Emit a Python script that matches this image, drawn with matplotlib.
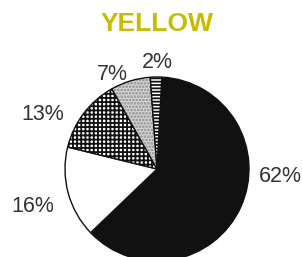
import matplotlib
matplotlib.use("Agg")
import matplotlib.pyplot as plt

# Data
labels = ["62%", "16%", "13%", "7%", "2%"]
values = [62, 16, 13, 7, 2]
title = "YELLOW"

plt.rcParams['font.family'] = ['Liberation Sans', 'DejaVu Sans']
plt.rcParams['hatch.linewidth'] = 1.3

fig = plt.figure(figsize=(3.02, 2.57), dpi=100)
fig.patch.set_facecolor('white')
ax = fig.add_axes([0, 0, 1, 1])

faces = ['#111111', 'white', 'white', '#d6d6d6', 'white']
hatches = [None, None, '++++', '.....', '-----']

wedges, _ = ax.pie(values, startangle=87, counterclock=False,
                   center=(157, 88), radius=92, frame=True,
                   colors=faces,
                   wedgeprops=dict(edgecolor='#111111', linewidth=1.0))
for w, h in zip(wedges, hatches):
    if h:
        w.set_hatch(h)
# lighter speckle for the stippled slice
try:
    wedges[3].set_hatchcolor('#8a8a8a')
except Exception:
    wedges[3]._hatch_color = (0.54, 0.54, 0.54, 1.0)

ax.set_xlim(0, 302)
ax.set_ylim(0, 257)
ax.set_aspect('equal')
ax.axis('off')

label_pos = [(280, 80), (33, 51), (43, 142), (112, 183), (157, 195)]
for t, (x, y) in zip(labels, label_pos):
    ax.text(x, y, t, ha='center', va='center', fontsize=15.5, color='#333333')

ax.text(157, 233, title, ha='center', va='center', fontsize=19,
        fontweight='bold', color='#c8bc00')

fig.savefig('out.png', dpi=100, facecolor='white')
